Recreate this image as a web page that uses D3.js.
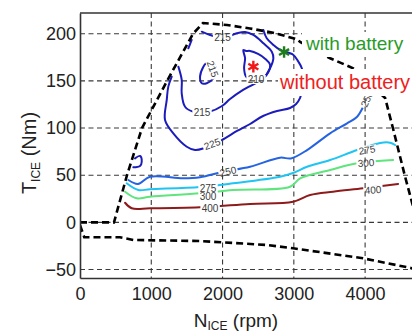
<!DOCTYPE html>
<html>
<head>
<meta charset="utf-8">
<script src="https://cdn.jsdelivr.net/npm/d3@7"></script>
<style>
  html, body { margin: 0; padding: 0; background: #fff; }
  svg { display: block; font-family: "Liberation Sans", Arial, sans-serif; }
</style>
</head>
<body>
<svg id="chart" width="412" height="332"></svg>
<script>
// axis ticks
const rpmTicks = [0, 1000, 2000, 3000, 4000];
const torqueTicks = [-50, 0, 50, 100, 150, 200];

// engine envelope, [rpm, Nm]
const maxTorque = [[0, 0], [477, 0], [660, 50.2], [870, 100], [1221, 149.9], [1586, 200], [1726, 211.4],
  [2063, 209.3], [2386, 205.6], [2709, 201.1], [3046, 194.1], [3088, 191.3], [3509, 174], [3832, 163.4],
  [4281, 131.9], [4397, 97.9], [4561, 48.4], [4660, 20.5], [4760, -5]];
const minTorque = [[0, -3], [60, -15.8], [560, -15.8], [750, -18.7], [1690, -19.8], [2630, -24],
  [2990, -27.5], [3970, -38.1], [4660, -48.7], [4760, -51]];

// BSFC contours (g/kWh), [rpm, Nm]
const bsfc210 = [[2292, 182.8], [2316, 174.0], [2302, 163.4], [2330, 154.5], [2386, 152.1], [2470, 151.5],
  [2573, 153.1], [2643, 159.5], [2667, 166.9], [2596, 173.6], [2498, 178.6], [2386, 181.8], [2330, 181.8]];
const bsfc215Outer = [[1708, 202.2], [1825, 198.7], [2007, 195.5], [2199, 200.5], [2316, 201.9], [2432, 198.7],
  [2573, 189.9], [2691, 181.0], [2713, 174.0], [2667, 163.4], [2573, 152.8], [2288, 140.4], [2105, 130.8],
  [1993, 123.4], [1825, 117.6], [1712, 117.0], [1590, 117.3], [1474, 122.6], [1427, 136.9], [1427, 151.0],
  [1380, 165.1]];
const bsfc215Arm = [[2573, 204.0], [2620, 195.2], [2713, 188.1], [2807, 182.8], [2994, 177.5], [3064, 170.4],
  [3112, 163.4], [3130, 153.1]];
const bsfc215Inner = [[1848, 170.4], [1768, 168.5], [1731, 165.1], [1684, 154.5], [1708, 147.5], [1778, 147.5],
  [1871, 152.8], [1909, 161.6]];
const bsfc215Bit = [[1567, 193.4], [1544, 189.1], [1520, 184.6]];
const bsfc225 = [[1287, 154.5], [1239, 143.9], [1217, 129.8], [1193, 108.5], [1309, 94.4], [1498, 80.2],
  [1614, 76.7], [1726, 78.3], [1853, 83.1], [1989, 87.3], [2203, 96.9], [2386, 104.3], [2568, 112.8],
  [2765, 118.1], [2947, 121.3], [3032, 125.5], [3088, 131.9], [3116, 140.4]];
const bsfc225Hook = [[772, 67.9], [842, 70.4], [866, 64.3], [842, 59.8], [748, 58.4]];
const bsfc250 = [[678, 44.9], [814, 40.7], [982, 48.4], [1446, 46.7], [1684, 47.8], [2007, 53.7], [2386, 59.0],
  [2807, 68.6], [2960, 67.8], [3186, 76.7], [3509, 94.4], [3747, 105.0], [3888, 112.0], [3986, 124.4],
  [4028, 131]];
const bsfc275 = [[655, 41.4], [818, 34.3], [982, 35.1], [1684, 37.5], [2147, 41.4], [2807, 48.4], [2989, 52.3],
  [3186, 59.0], [3509, 66.1], [3888, 76.7], [4211, 84.2], [4351, 84.5], [4421, 82.0]];
const bsfc300 = [[632, 32.5], [796, 25.5], [982, 27.2], [1684, 30.8], [2147, 34.3], [2947, 37.8], [3088, 46.7],
  [3509, 55.5], [3888, 62.6], [4393, 66.1]];
const bsfc400 = [[632, 20.8], [726, 14.9], [982, 14.9], [1684, 16.0], [2386, 19.5], [2989, 21.9], [3228, 29.0],
  [3551, 32.5], [3972, 36.1], [4463, 40.7]];

// contour labels: text, rpm, Nm, angle
const contourLabels = [
  ["215", 2000, 196.0, 0], ["215", 1712, 117.0, 0], ["215", 1860, 162.6, 70], ["210", 2470, 151.5, 0],
  ["225", 1853, 83.1, -20], ["250", 2077, 53.9, -12], ["250", 4028, 130.8, -65],
  ["275", 1796, 36.4, 0], ["275", 4028, 76.7, -8], ["300", 1796, 27.4, 0], ["300", 4014, 62.9, -4],
  ["400", 1825, 14.2, 0], ["400", 4112, 34.3, -4]
];

// operating points: [rpm, Nm]
const withBattery = [2863, 180.6];
const withoutBattery = [2432, 165.1];

const svg = d3.select("#chart");
const W = 412, H = 332;
const margin = { top: 13, left: 80, bottom: 54 };

const x = d3.scaleLinear().domain([0, 4700]).range([margin.left, 415]);
const y = d3.scaleLinear().domain([-59, 222]).range([H - margin.bottom, margin.top]);

const defs = svg.append("defs");
defs.append("clipPath").attr("id", "plot-clip")
  .append("rect").attr("x", x(0)).attr("y", margin.top)
  .attr("width", W - x(0)).attr("height", y(-59) - margin.top);

// gaps in the contour lines where the labels sit
const mask = defs.append("mask").attr("id", "label-mask");
mask.append("rect").attr("width", W).attr("height", H).attr("fill", "#fff");
mask.selectAll("rect.gap").data(contourLabels).join("rect")
  .attr("class", "gap")
  .attr("x", (d) => -d[0].length * 2.9 - 1)
  .attr("y", -4.5)
  .attr("width", (d) => d[0].length * 5.8 + 2)
  .attr("height", 9)
  .attr("fill", "#000")
  .attr("transform", (d) => `translate(${x(d[1])},${y(d[2])}) rotate(${d[3]})`);

// grid
const grid = svg.append("g").attr("class", "grid")
  .attr("stroke", "#3a3a3a").attr("stroke-width", 1.1).attr("stroke-dasharray", "5,3.5");
grid.selectAll("line.v").data(rpmTicks.filter((t) => t > 0)).join("line")
  .attr("class", "v")
  .attr("x1", (d) => x(d)).attr("x2", (d) => x(d))
  .attr("y1", margin.top).attr("y2", y(-59));
grid.selectAll("line.h").data(torqueTicks).join("line")
  .attr("class", "h")
  .attr("x1", x(0)).attr("x2", W)
  .attr("y1", (d) => y(d)).attr("y2", (d) => y(d));

const plot = svg.append("g").attr("clip-path", "url(#plot-clip)");

const smooth = d3.line().x((d) => x(d[0])).y((d) => y(d[1])).curve(d3.curveCatmullRom.alpha(0.5));
const smoothClosed = d3.line().x((d) => x(d[0])).y((d) => y(d[1])).curve(d3.curveCatmullRomClosed.alpha(0.5));
const straight = d3.line().x((d) => x(d[0])).y((d) => y(d[1]));

const darkBlue = "#1c1cbc";
const contours = [
  { pts: bsfc400, color: "#8e1b1b", closed: false },
  { pts: bsfc300, color: "#5fe47e", closed: false },
  { pts: bsfc275, color: "#1fc4f2", closed: false },
  { pts: bsfc250, color: "#2563e0", closed: false },
  { pts: bsfc225, color: darkBlue, closed: false },
  { pts: bsfc225Hook, color: darkBlue, closed: false },
  { pts: bsfc215Outer, color: darkBlue, closed: false },
  { pts: bsfc215Arm, color: darkBlue, closed: false },
  { pts: bsfc215Inner, color: darkBlue, closed: true },
  { pts: bsfc215Bit, color: darkBlue, closed: false },
  { pts: bsfc210, color: darkBlue, closed: true }
];

plot.append("g").attr("mask", "url(#label-mask)")
  .selectAll("path").data(contours).join("path")
  .attr("d", (d) => (d.closed ? smoothClosed : smooth)(d.pts))
  .attr("fill", "none")
  .attr("stroke", (d) => d.color)
  .attr("stroke-width", 2)
  .attr("stroke-linejoin", "round")
  .attr("stroke-linecap", "round");

plot.selectAll("text.clabel").data(contourLabels).join("text")
  .attr("class", "clabel")
  .attr("transform", (d) => `translate(${x(d[1])},${y(d[2])}) rotate(${d[3]})`)
  .attr("text-anchor", "middle")
  .attr("dy", "0.35em")
  .attr("font-size", 10)
  .attr("fill", "#3c3c3c")
  .text((d) => d[0]);

plot.selectAll("path.envelope").data([maxTorque, minTorque]).join("path")
  .attr("class", "envelope")
  .attr("d", straight)
  .attr("fill", "none")
  .attr("stroke", "#000")
  .attr("stroke-width", 2.6)
  .attr("stroke-dasharray", "7,4");

// operating points
const star = d3.symbol(d3.symbolAsterisk, 95);
svg.selectAll("path.pt").data([
  { p: withoutBattery, color: "#f01818" },
  { p: withBattery, color: "#1d7d1d" }
]).join("path")
  .attr("class", "pt")
  .attr("transform", (d) => `translate(${x(d.p[0])},${y(d.p[1])})`)
  .attr("d", star)
  .attr("fill", "none")
  .attr("stroke", (d) => d.color)
  .attr("stroke-width", 2.4);

// annotation boxes
const notes = [
  { text: "with battery", color: "#2a9a2a", size: 19, x: 306, y: 50, box: [302, 32, 110, 25] },
  { text: "without battery", color: "#ee2020", size: 20, x: 280, y: 88.5, box: [278, 69, 134, 27] }
];
const noteG = svg.selectAll("g.note").data(notes).join("g").attr("class", "note");
noteG.append("rect")
  .attr("x", (d) => d.box[0]).attr("y", (d) => d.box[1])
  .attr("width", (d) => d.box[2]).attr("height", (d) => d.box[3])
  .attr("fill", "#fff");
noteG.append("text")
  .attr("x", (d) => d.x).attr("y", (d) => d.y)
  .attr("font-size", (d) => d.size)
  .attr("fill", (d) => d.color)
  .text((d) => d.text);

// axes
const gx = svg.append("g").attr("transform", `translate(0,${y(-59)})`)
  .call(d3.axisBottom(x).tickValues(rpmTicks).tickFormat(d3.format("d"))
    .tickSize(0).tickPadding(9).tickSizeOuter(0));
const gy = svg.append("g").attr("transform", `translate(${x(0)},0)`)
  .call(d3.axisLeft(y).tickValues(torqueTicks).tickFormat(d3.format("d"))
    .tickSize(0).tickPadding(4).tickSizeOuter(0));
[gx, gy].forEach((g) => {
  g.select(".domain").attr("stroke", "#333").attr("stroke-width", 1.6);
  g.selectAll("text").attr("fill", "#222").style("font-size", "18px")
    .style("font-family", '"Liberation Sans", Arial, sans-serif');
});
svg.append("line")
  .attr("x1", x(0)).attr("x2", W)
  .attr("y1", margin.top).attr("y2", margin.top)
  .attr("stroke", "#333").attr("stroke-width", 1.6);

// axis titles
const xt = svg.append("text").attr("x", 236).attr("y", 327)
  .attr("text-anchor", "middle").attr("font-size", 19).attr("fill", "#222");
xt.append("tspan").text("N");
xt.append("tspan").attr("font-size", 12).attr("dy", 3).text("ICE");
xt.append("tspan").attr("dy", -3).text(" (rpm)");

const yt = svg.append("text").attr("transform", "translate(36,153) rotate(-90)")
  .attr("text-anchor", "middle").attr("font-size", 20).attr("fill", "#222");
yt.append("tspan").text("T");
yt.append("tspan").attr("font-size", 12).attr("dy", 4).text("ICE");
yt.append("tspan").attr("dy", -4).text(" (Nm)");
</script>
</body>
</html>
